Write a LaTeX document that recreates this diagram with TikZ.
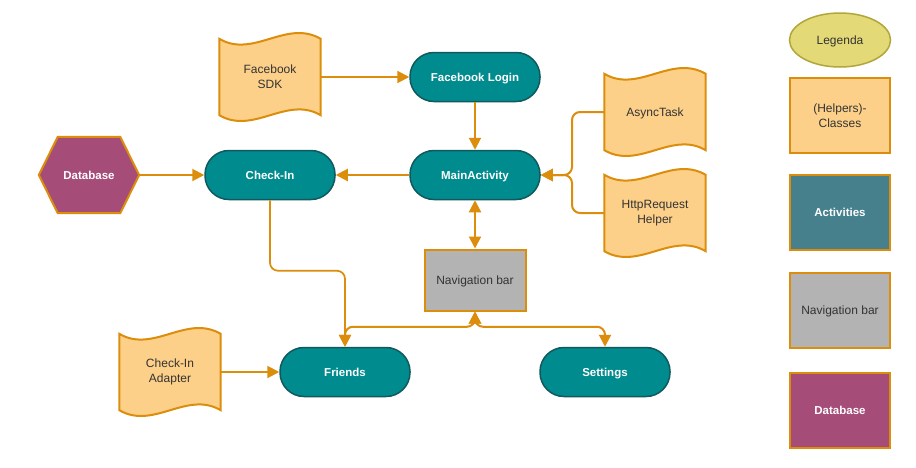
\documentclass[tikz,border=0pt]{standalone}
\usepackage{fontspec}
\setmainfont{Liberation Sans}
\usetikzlibrary{arrows.meta,calc,backgrounds,shapes.geometric}
\definecolor{orng}{HTML}{DB8D0B}
\definecolor{docfill}{HTML}{FDD089}
\definecolor{teal0}{HTML}{008B8F}
\definecolor{tealdk}{HTML}{10595C}
\definecolor{teallg}{HTML}{47808D}
\definecolor{dbc}{HTML}{A54C78}
\definecolor{navg}{HTML}{B3B3B3}
\definecolor{legf}{HTML}{E3D977}
\definecolor{legd}{HTML}{B2A63A}
\definecolor{txt}{HTML}{333333}
\tikzset{
  act/.style={rectangle, rounded corners=24pt, minimum width=130pt, minimum height=49pt,
    fill=teal0, draw=tealdk, line width=1.5pt, text=white, inner sep=0pt,
    text height=9pt, text depth=0.8pt,
    font=\fontsize{11.5}{14}\selectfont\bfseries},
  doc/.style={rectangle, minimum width=101pt, minimum height=94pt, inner sep=0pt,
    text=txt, align=center, font=\fontsize{12}{15}\selectfont},
  hexnode/.style={rectangle, minimum width=100pt, minimum height=76pt, inner sep=0pt,
    text height=9pt, text depth=0.8pt,
    text=white, font=\fontsize{11.5}{14}\selectfont\bfseries},
  navbox/.style={rectangle, minimum width=101pt, minimum height=61pt, inner sep=0pt,
    text height=9pt, text depth=0.8pt,
    fill=navg, draw=orng, line width=2pt, text=txt, font=\fontsize{12}{15}\selectfont},
  legbox/.style={rectangle, minimum width=100pt, minimum height=75pt, inner sep=0pt,
    draw=orng, line width=2pt, align=center, font=\fontsize{12}{15}\selectfont},
  onetext/.style={text height=9pt, text depth=0.8pt},
  conn/.style={draw=orng, line width=2pt, rounded corners=8pt},
  tip/.style={-{Triangle[length=12pt,width=12pt]}},
  tips/.style={{Triangle[length=12pt,width=12pt]}-{Triangle[length=12pt,width=12pt]}},
  shapeline/.style={fill=docfill, draw=orng, line width=2pt},
}
\newcommand\tapebg[1]{%
  \begin{scope}[on background layer]
  \path[shapeline]
    ($(#1.north west)+(0,9)$) .. controls ($(#1.north west)+(34,29)$) and ($(#1.north west)+(67,-11)$) .. ($(#1.north east)+(0,9)$)
    -- ($(#1.south east)+(0,-9)$) .. controls ($(#1.south east)+(-34,-29)$) and ($(#1.south east)+(-67,11)$) .. ($(#1.south west)+(0,-9)$) -- cycle;
  \end{scope}}
\newcommand\hexbg[1]{%
  \begin{scope}[on background layer]
  \path[fill=dbc, draw=orng, line width=2pt]
    (#1.west) -- ($(#1.north west)+(19,0)$) -- ($(#1.north east)+(-19,0)$) -- (#1.east)
    -- ($(#1.south east)+(-19,0)$) -- ($(#1.south west)+(19,0)$) -- cycle;
  \end{scope}}
\begin{document}
\begin{tikzpicture}[x=1pt,y=-1pt]
\begin{scope}[on background layer]
\path[use as bounding box, fill=white] (0,0) rectangle (916,467);
\end{scope}

% nodes
\node[doc] (sdk) at (270,77) {Facebook\\SDK};
\tapebg{sdk}
\node[act] (fbl) at (475,77) {Facebook Login};
\node[act] (main) at (475,175) {MainActivity};
\node[act] (chk) at (270,175) {Check-In};
\node[hexnode] (db) at (89,175) {Database};
\hexbg{db}
\node[doc, onetext] (async) at (655,112) {AsyncTask};
\tapebg{async}
\node[doc] (http) at (655,213) {HttpRequest\\Helper};
\tapebg{http}
\node[navbox] (nav) at (475,280) {Navigation bar};
\node[act] (fr) at (345,372) {Friends};
\node[act] (set) at (605,372) {Settings};
\node[doc] (adp) at (170,372) {Check-In\\Adapter};
\tapebg{adp}
\coordinate (j) at (572,175);

% legend
\node[ellipse, minimum width=101pt, minimum height=54pt, inner sep=0pt, fill=legf, draw=legd,
  line width=1.5pt, text=txt, onetext, font=\fontsize{12}{15}\selectfont] (leg) at (840,40) {Legenda};
\node[legbox, fill=docfill, text=txt] (lh) at (840,115.5) {(Helpers)-\\Classes};
\node[legbox, onetext, fill=teallg, text=white, font=\fontsize{11.5}{14}\selectfont\bfseries] (la) at (840,212) {Activities};
\node[legbox, onetext, fill=navg, text=txt] (ln) at (840,310) {Navigation bar};
\node[legbox, onetext, fill=dbc, text=white, font=\fontsize{11.5}{14}\selectfont\bfseries] (ld) at (840,410) {Database};

% connectors
\draw[conn, tip] (sdk.east) -- (fbl.west);
\draw[conn, tip] (fbl.south) -- (main.north);
\draw[conn, tip] (main.west) -- (chk.east);
\draw[conn, tip] (db.east) -- (chk.west);
\draw[conn, tip] (async.west) -| (j) -- (main.east);
\draw[conn, tip] (http.west) -| (j) -- (main.east);
\draw[conn, tips] (main.south) -- (nav.north);
\draw[conn, tip, line width=1.7pt] (chk.south) |- ([yshift=76pt]fr.north) -- (fr.north);
\draw[conn, tips] (nav.south) |- ([yshift=20pt]fr.north) -- (fr.north);
\draw[conn, tips] (nav.south) |- ([yshift=20pt]set.north) -- (set.north);
\draw[conn, tip] (adp.east) -- (fr.west);
\end{tikzpicture}
\end{document}
